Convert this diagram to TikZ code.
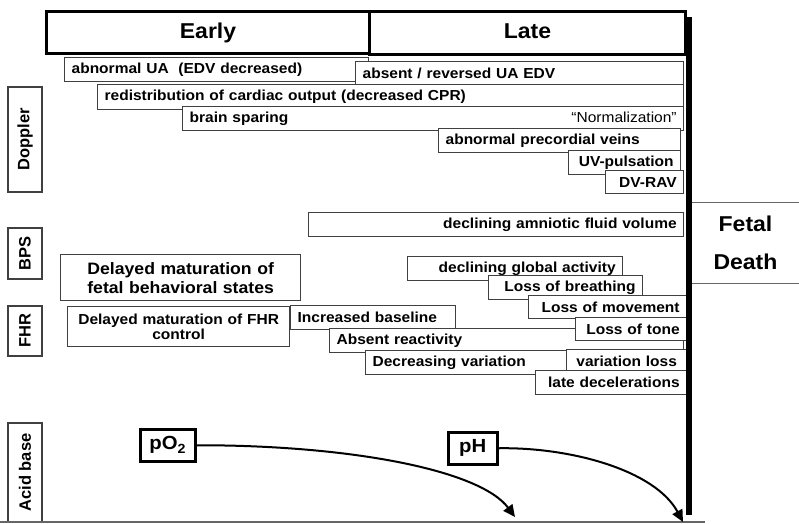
\documentclass[tikz,border=0pt]{standalone}
\usepackage{fontspec}
\setmainfont{Liberation Sans}[FakeStretch=1.07]
\newfontfamily\sidefont{Liberation Sans}
\usetikzlibrary{arrows.meta}

\begin{document}
\begin{tikzpicture}[x=1pt,y=-1pt,>={Triangle[length=12pt,width=11pt]}]
  \tikzset{
    phase/.style={draw,line width=3pt,fill=white,anchor=north west,inner sep=0pt,
      font=\bfseries\fontsize{21.5}{24}\selectfont},
    side/.style={draw=black!75,line width=1.3pt,rotate=90,minimum height=34pt,inner sep=0pt,
      font=\sidefont\bfseries\fontsize{16.5}{18}\selectfont},
    box/.style={draw=black!75,line width=1.3pt,fill=white,anchor=north west,
      inner xsep=7pt,inner ysep=0pt,font=\bfseries\fontsize{14.5}{15.5}\selectfont},
    gas/.style={draw,line width=2.5pt,fill=white,anchor=north west,inner sep=0pt,
      font=\bfseries\fontsize{19}{20}\selectfont},
    trend/.style={->,line width=2pt},
    rule/.style={black!60,line width=1.2pt}
  }
  \useasboundingbox (0,0) rectangle (799,523);

  \node[phase,minimum width=323pt,minimum height=42pt,text depth=3pt] (early) at (45,10)
    {Early\hspace{17pt}};
  \node[phase,minimum width=316pt,minimum height=43pt,text depth=3pt] (late) at (368,10)
    {Late\hspace{16pt}};

  \node[side,minimum width=105pt] (doppler) at (25,139.5) {Doppler};
  \node[side,minimum width=51pt] (bps) at (25,253.5) {BPS};
  \node[side,minimum width=50pt] (fhr) at (25,331) {FHR};
  \node[side,minimum width=99pt] (acid) at (25,472.5) {Acid base};

  \node[box,text width=290pt,minimum height=24pt,align=left] (ua) at (64,57)
    {abnormal UA~~(EDV decreased)};
  \node[box,text width=314pt,minimum height=23pt,align=left] (absent) at (355,61)
    {absent / reversed UA EDV};
  \node[box,text width=572pt,minimum height=25pt,align=left] (redis) at (97,84)
    {redistribution of cardiac output (decreased CPR)};
  \node[box,text width=487pt,minimum height=24pt,align=left] (brain) at (182,106)
    {brain sparing\hspace{0pt plus 1filll}{\mdseries “Normalization”}};
  \node[box,text width=228pt,minimum height=24pt,align=left] (veins) at (438,128)
    {abnormal precordial veins};
  \node[box,text width=98pt,minimum height=24pt,align=right] (uv) at (568,150)
    {UV-pulsation};
  \node[box,text width=64pt,minimum height=23pt,align=right] (dv) at (605,170)
    {DV-RAV};

  \node[box,text width=361pt,minimum height=24pt,align=right] (afv) at (308,212)
    {declining amniotic fluid volume};
  \node[box,text width=226pt,minimum height=46pt,align=center,
    font=\bfseries\fontsize{16.5}{19}\selectfont] (states) at (60,254)
    {Delayed maturation of\\fetal behavioral states};
  \node[box,text width=201pt,minimum height=24pt,align=right] (global) at (407,256)
    {declining global activity};
  \node[box,text width=140pt,minimum height=24pt,align=right] (breath) at (488,275)
    {Loss of breathing};
  \node[box,text width=144pt,minimum height=23pt,align=right] (move) at (528,295)
    {Loss of movement};

  \node[box,text width=208pt,minimum height=40pt,align=center] (control) at (67,306)
    {Delayed maturation of FHR\\control};
  \node[box,text width=151pt,minimum height=24pt,align=left] (basal) at (290,305)
    {Increased baseline};
  \node[box,text width=340pt,minimum height=24pt,align=left] (react) at (329,328)
    {Absent reactivity};
  \node[box,text width=97pt,minimum height=23pt,align=right] (tone) at (575,317)
    {Loss of tone};
  \node[box,text width=187pt,minimum height=24pt,align=left] (decvar) at (365,350)
    {Decreasing variation};
  \node[box,text width=106pt,minimum height=24pt,align=center] (varloss) at (566,349)
    {variation loss};
  \node[box,text width=137pt,minimum height=24pt,align=right] (decel) at (535,370)
    {late decelerations};

  \coordinate (dtop) at (689,17);
  \coordinate (dbot) at (689,515);
  \draw[line width=5.5pt] (dtop) -- (dbot);

  \node[minimum width=107pt,minimum height=80pt,inner sep=0pt,align=center,
    font=\bfseries\fontsize{21.5}{38}\selectfont] (death) at (745.5,243) {Fetal\\Death};
  \draw[rule] (death.north west) -- (death.north east);
  \draw[rule] (death.south west) -- (death.south east);

  \coordinate (floorl) at (0,522);
  \coordinate (floorr) at (705,522);
  \draw[rule] (floorl) -- (floorr);

  \node[gas,minimum width=55pt,minimum height=32pt] (po2) at (139,428) {pO\textsubscript{2}};
  \node[gas,minimum width=49pt,minimum height=32pt] (ph) at (447,431) {pH};
  \coordinate (po2end) at (515,517);
  \coordinate (phend) at (683,522);
  \draw[trend] (po2.east) .. controls (350,445) and (480,470) .. (po2end);
  \draw[trend] (ph.east) .. controls (570,447) and (655,470) .. (phend);
\end{tikzpicture}
\end{document}
